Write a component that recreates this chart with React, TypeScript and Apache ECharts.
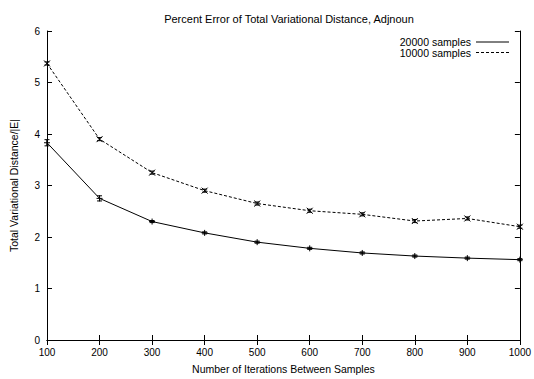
import React, { useEffect, useRef } from "react";
import * as echarts from "echarts";

const iterations = [100, 200, 300, 400, 500, 600, 700, 800, 900, 1000];
const samples20000 = [3.83, 2.75, 2.3, 2.08, 1.9, 1.78, 1.69, 1.63, 1.59, 1.56];
const errors20000 = [0.06, 0.05, 0.02, 0.02, 0.02, 0.02, 0.02, 0.02, 0.02, 0.02];
const samples10000 = [5.37, 3.9, 3.25, 2.9, 2.65, 2.51, 2.44, 2.31, 2.36, 2.2];
const errors10000 = [0.03, 0.03, 0.03, 0.03, 0.03, 0.03, 0.03, 0.03, 0.03, 0.03];
const seriesNames = ["20000 samples", "10000 samples"];
const titleText = "Percent Error of Total Variational Distance, Adjnoun";
const xAxisName = "Number of Iterations Between Samples";
const yAxisName = "Total Variational Distance/|E|";

const FONT = "Liberation Sans, Arial, Helvetica, sans-serif";

function errData(vals: number[], errs: number[]) {
  return iterations.map((x, i) => [x, vals[i], errs[i]]);
}

function makeErrRender(marker: "plus" | "cross") {
  return (params: any, api: any) => {
    const x = api.value(0);
    const y = api.value(1);
    const e = api.value(2);
    const c = api.coord([x, y]);
    const t = api.coord([x, y + e]);
    const b = api.coord([x, y - e]);
    const st = { stroke: "#000", lineWidth: 1 };
    const cap = 2.5;
    const m = 3;
    const children: any[] = [
      { type: "line", shape: { x1: c[0], y1: t[1], x2: c[0], y2: b[1] }, style: st },
      { type: "line", shape: { x1: c[0] - cap, y1: t[1], x2: c[0] + cap, y2: t[1] }, style: st },
      { type: "line", shape: { x1: c[0] - cap, y1: b[1], x2: c[0] + cap, y2: b[1] }, style: st },
    ];
    if (marker === "plus") {
      children.push(
        { type: "line", shape: { x1: c[0] - m, y1: c[1], x2: c[0] + m, y2: c[1] }, style: st },
        { type: "line", shape: { x1: c[0], y1: c[1] - m, x2: c[0], y2: c[1] + m }, style: st }
      );
    } else {
      children.push(
        { type: "line", shape: { x1: c[0] - m, y1: c[1] - m, x2: c[0] + m, y2: c[1] + m }, style: st },
        { type: "line", shape: { x1: c[0] - m, y1: c[1] + m, x2: c[0] + m, y2: c[1] - m }, style: st }
      );
    }
    return { type: "group", children };
  };
}

export default function App() {
  const ref = useRef<HTMLDivElement>(null);
  useEffect(() => {
    if (!ref.current) return;
    const chart = echarts.init(ref.current, null, { renderer: "svg" });
    const axisLine = { show: true, lineStyle: { color: "#000", width: 1 } };
    const tick = { show: true, inside: true, length: 5, lineStyle: { color: "#000", width: 1 } };
    const label = { color: "#000", fontSize: 10, fontFamily: FONT };
    chart.setOption({
      animation: false,
      backgroundColor: "#fff",
      textStyle: { fontFamily: FONT },
      title: {
        text: titleText,
        left: 284,
        top: 8,
        textAlign: "center",
        textStyle: { fontSize: 11, fontWeight: "normal", color: "#000", fontFamily: FONT },
      },
      grid: { left: 45.5, right: 12, top: 31, bottom: 33 },
      xAxis: [
        {
          type: "value",
          min: 100,
          max: 1000,
          interval: 100,
          position: "bottom",
          axisLine,
          axisTick: tick,
          splitLine: { show: false },
          axisLabel: { ...label, margin: 7, formatter: (v: number) => String(v) },
          name: xAxisName,
          nameLocation: "middle",
          nameGap: 23,
          nameTextStyle: { color: "#000", fontSize: 10.5, fontFamily: FONT },
        },
        {
          type: "value",
          min: 100,
          max: 1000,
          interval: 100,
          position: "top",
          axisLine,
          axisTick: tick,
          splitLine: { show: false },
          axisLabel: { show: false },
        },
      ],
      yAxis: [
        {
          type: "value",
          min: 0,
          max: 6,
          interval: 1,
          position: "left",
          axisLine,
          axisTick: tick,
          splitLine: { show: false },
          axisLabel: { ...label, margin: 7 },
          name: yAxisName,
          nameLocation: "middle",
          nameGap: 28,
          nameRotate: 90,
          nameTextStyle: { color: "#000", fontSize: 10.5, fontFamily: FONT },
        },
        {
          type: "value",
          min: 0,
          max: 6,
          interval: 1,
          position: "right",
          axisLine,
          axisTick: tick,
          splitLine: { show: false },
          axisLabel: { show: false },
        },
      ],
      series: [
        {
          name: seriesNames[0],
          type: "line",
          data: iterations.map((x, i) => [x, samples20000[i]]),
          symbol: "none",
          lineStyle: { color: "#000", width: 1 },
          z: 3,
        },
        {
          name: seriesNames[1],
          type: "line",
          data: iterations.map((x, i) => [x, samples10000[i]]),
          symbol: "none",
          lineStyle: { color: "#000", width: 1, type: [3, 2] },
          z: 3,
        },
        {
          type: "custom",
          data: errData(samples20000, errors20000),
          renderItem: makeErrRender("plus"),
          encode: { x: 0, y: 1 },
          z: 4,
          silent: true,
        },
        {
          type: "custom",
          data: errData(samples10000, errors10000),
          renderItem: makeErrRender("cross"),
          encode: { x: 0, y: 1 },
          z: 4,
          silent: true,
        },
      ],
      graphic: [
        {
          type: "text",
          x: 471,
          y: 42,
          style: { text: seriesNames[0], align: "right", verticalAlign: "middle", fontSize: 10.5, lineHeight: 10, fontFamily: FONT, fill: "#000" },
        },
        {
          type: "text",
          x: 471,
          y: 52.5,
          style: { text: seriesNames[1], align: "right", verticalAlign: "middle", fontSize: 10.5, lineHeight: 10, fontFamily: FONT, fill: "#000" },
        },
        {
          type: "line",
          shape: { x1: 476, y1: 42, x2: 509, y2: 42 },
          style: { stroke: "#000", lineWidth: 1 },
        },
        {
          type: "line",
          shape: { x1: 476, y1: 52.5, x2: 509, y2: 52.5 },
          style: { stroke: "#000", lineWidth: 1, lineDash: [3, 2] },
        },
      ],
    });
    return () => chart.dispose();
  }, []);
  return (
    <div
      ref={ref}
      style={{ position: "fixed", left: 0, top: 0, width: 534, height: 379 }}
    />
  );
}
